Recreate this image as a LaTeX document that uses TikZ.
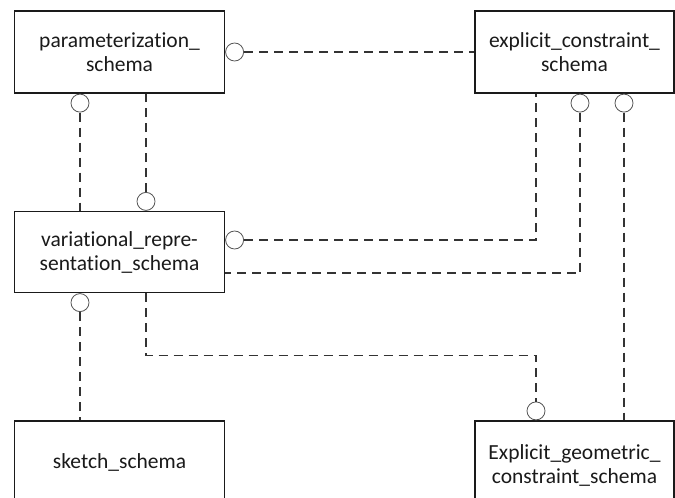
\documentclass[tikz,border=0pt]{standalone}
\usepackage{fontspec}
\setmainfont[Ligatures=NoCommon]{Carlito}
\definecolor{boxline}{HTML}{1A1A1A}
\definecolor{dashline}{HTML}{333333}
\definecolor{circline}{HTML}{555555}
\begin{document}
\begin{tikzpicture}[x=1pt,y=1pt,
  schemabox/.style={draw=boxline, line width=1.4pt, fill=white, inner sep=0pt,
    minimum height=82pt, align=center, font=\fontsize{21.5}{24}\selectfont, text=boxline},
  link/.style={draw=dashline, line width=1.3pt, dash pattern=on 9pt off 6pt},
  circ/.style={circle, draw=circline, line width=0.8pt, fill=white, minimum size=18pt, inner sep=0pt}]
\useasboundingbox (0,0) rectangle (675,-498);
\clip (0,0) rectangle (675,-498);
\fill[white] (0,0) rectangle (675,-498);

\node[schemabox, minimum width=210pt] (param) at (119.5,-52) {parameterization\_\\schema};
\node[schemabox, minimum width=199pt] (expl) at (574.5,-52) {explicit\_constraint\_\\schema};
\node[schemabox, minimum width=210pt, minimum height=81pt] (var) at (119.5,-252) {variational\_repre-\\sentation\_schema};
\node[schemabox, minimum width=210pt] (sketch) at (119.5,-462) {sketch\_schema};
\node[schemabox, minimum width=199pt, minimum height=88pt] (geo) at (574.5,-465) {Explicit\_geometric\_\\constraint\_schema};

% circles
\node[circ, anchor=west] (c1) at (param.east) {};
\node[circ, anchor=north] (c2) at ([xshift=-39.5pt]param.south) {};
\node[circ, anchor=south] (c3) at ([xshift=26.5pt]var.north) {};
\node[circ, anchor=west] (c4) at ([yshift=12pt]var.east) {};
\node[circ, anchor=north] (c5) at ([xshift=5.5pt]expl.south) {};
\node[circ, anchor=north] (c6) at ([xshift=49.5pt]expl.south) {};
\node[circ, anchor=north] (c7) at ([xshift=-39.5pt]var.south) {};
\node[circ, anchor=south] (c8) at ([xshift=-38.5pt]geo.north) {};

% connectors
\draw[link] (c1.east) -- (expl.west);
\draw[link] (c2.south) -- (c2.south |- var.north);
\draw[link] (c3.north) -- (c3.north |- param.south);
\draw[link] (c4.east) -| ([xshift=-38.5pt]expl.south);
\draw[link] (c5.south) |- ([yshift=-21pt]var.east);
\draw[link] (c6.south) -- (c6.south |- geo.north);
\draw[link] (c7.south) -- (c7.south |- sketch.north);
\draw[link] ([xshift=26.5pt]var.south) -- ++(0,-62.5) -| (c8.north);
\end{tikzpicture}
\end{document}
